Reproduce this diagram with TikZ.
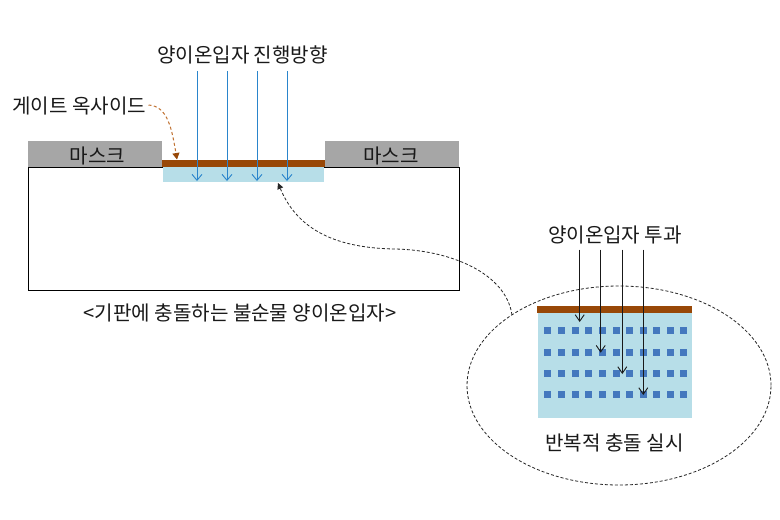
\documentclass[tikz,border=0pt]{standalone}
\usepackage{fontspec}
\setmainfont{Noto Sans CJK KR}
\usetikzlibrary{arrows.meta,shapes.geometric}
\definecolor{maskgray}{HTML}{A6A6A6}
\definecolor{gatebrown}{HTML}{984807}
\definecolor{implant}{HTML}{B7DEE8}
\definecolor{ionblue}{HTML}{2A85CC}
\definecolor{dotblue}{HTML}{4478BE}
\definecolor{leader}{HTML}{C0702F}
\tikzset{
  lbl/.style={inner sep=0pt,font=\fontsize{20.1}{22}\selectfont,text=black!90},
  maskbox/.style={fill=maskgray,draw=none,minimum width=134,minimum height=26,inner sep=0pt},
  ionarrow/.style={draw=ionblue,line width=0.8,-{Straight Barb[length=6,width=10,line width=0.9]}},
  passarrow/.style={draw=black!90,line width=0.9,-{Straight Barb[length=6.5,width=9,line width=0.9]}},
  dashcurve/.style={draw=black!85,line width=0.8,dash pattern=on 3 off 2}
}
\begin{document}
\begin{tikzpicture}[x=1pt,y=-1pt]
\useasboundingbox (0,0) rectangle (780,520);
\fill[white] (0,0) rectangle (780,520);
% substrate
\node[draw=black,line width=0.9,fill=white,minimum width=431,minimum height=123,inner sep=0pt,anchor=north west] (sub) at (28,167) {};
\node[maskbox,anchor=south west] (maskL) at (28,167.4) {};
\node[maskbox,anchor=south west] (maskR) at (325,167.4) {};
\node[lbl] at (97.5,155.5) {마스크};
\node[lbl] at (391,155.5) {마스크};
\node[fill=implant,draw=none,minimum width=161,minimum height=15,inner sep=0pt,anchor=north west] (impl) at (163,167) {};
\node[fill=gatebrown,draw=none,minimum width=163,minimum height=7,inner sep=0pt,anchor=north west] (gate) at (162,160) {};
% incoming ions
\foreach \i/\x in {1/197,2/227,3/257,4/287}{
  \coordinate (ionS\i) at (\x,71);
  \coordinate (ionE\i) at (\x,181);
  \draw[ionarrow] (ionS\i) -- (ionE\i);
}
\node[lbl] (title) at (242.5,54.5) {양이온입자 진행방향};
\node[lbl,anchor=east] (gox) at (146.5,105.5) {게이트 옥사이드};
\draw[draw=leader,line width=1,dash pattern=on 3 off 2.5,-{Triangle[length=6.5,width=7,fill=gatebrown,color=gatebrown]}]
  (gox.east) ++(2,-0.5) .. controls (168,106) and (172,130) .. (177,159.5);
\node[lbl] (cap) at (240,312.5) {<기판에 충돌하는 불순물 양이온입자>};
% zoom ellipse
\node[ellipse,draw=black!85,line width=0.8,dash pattern=on 3 off 2,minimum width=304,minimum height=199,inner sep=0pt] (zoomE) at (619,385.5) {};
\coordinate (zoomP) at (512,315);
\coordinate (hit) at (278,183);
\draw[dashcurve,-{Triangle[length=6,width=6]}]
  (zoomP) .. controls (506,273) and (450,250) .. (395,249) .. controls (330,248) and (296,226) .. (hit);
% detail
\node[fill=implant,draw=none,minimum width=154,minimum height=105,inner sep=0pt,anchor=north west] (blk) at (538,313) {};
\node[fill=gatebrown,draw=none,minimum width=155,minimum height=7,inner sep=0pt,anchor=north west] (gate2) at (537,306) {};
\foreach \y in {330.7,352,373.3,394.7}{
  \foreach \x in {547.7,561.3,575,588.7,602.3,616,629.3,643,656.7,670.3,683.3}{
    \fill[dotblue] (\x-3.5,\y-3.5) rectangle (\x+3.5,\y+3.5);
  }
}
\foreach \i/\x/\e in {1/579.7/322,2/600.7/352.7,3/622.3/374,4/643.3/395}{
  \coordinate (passS\i) at (\x,249.5);
  \coordinate (passE\i) at (\x,\e);
  \draw[passarrow] (passS\i) -- (passE\i);
}
\node[lbl] (title2) at (615,234.5) {양이온입자 투과};
\node[lbl] (cap2) at (614.5,442.5) {반복적 충돌 실시};
\end{tikzpicture}
\end{document}
